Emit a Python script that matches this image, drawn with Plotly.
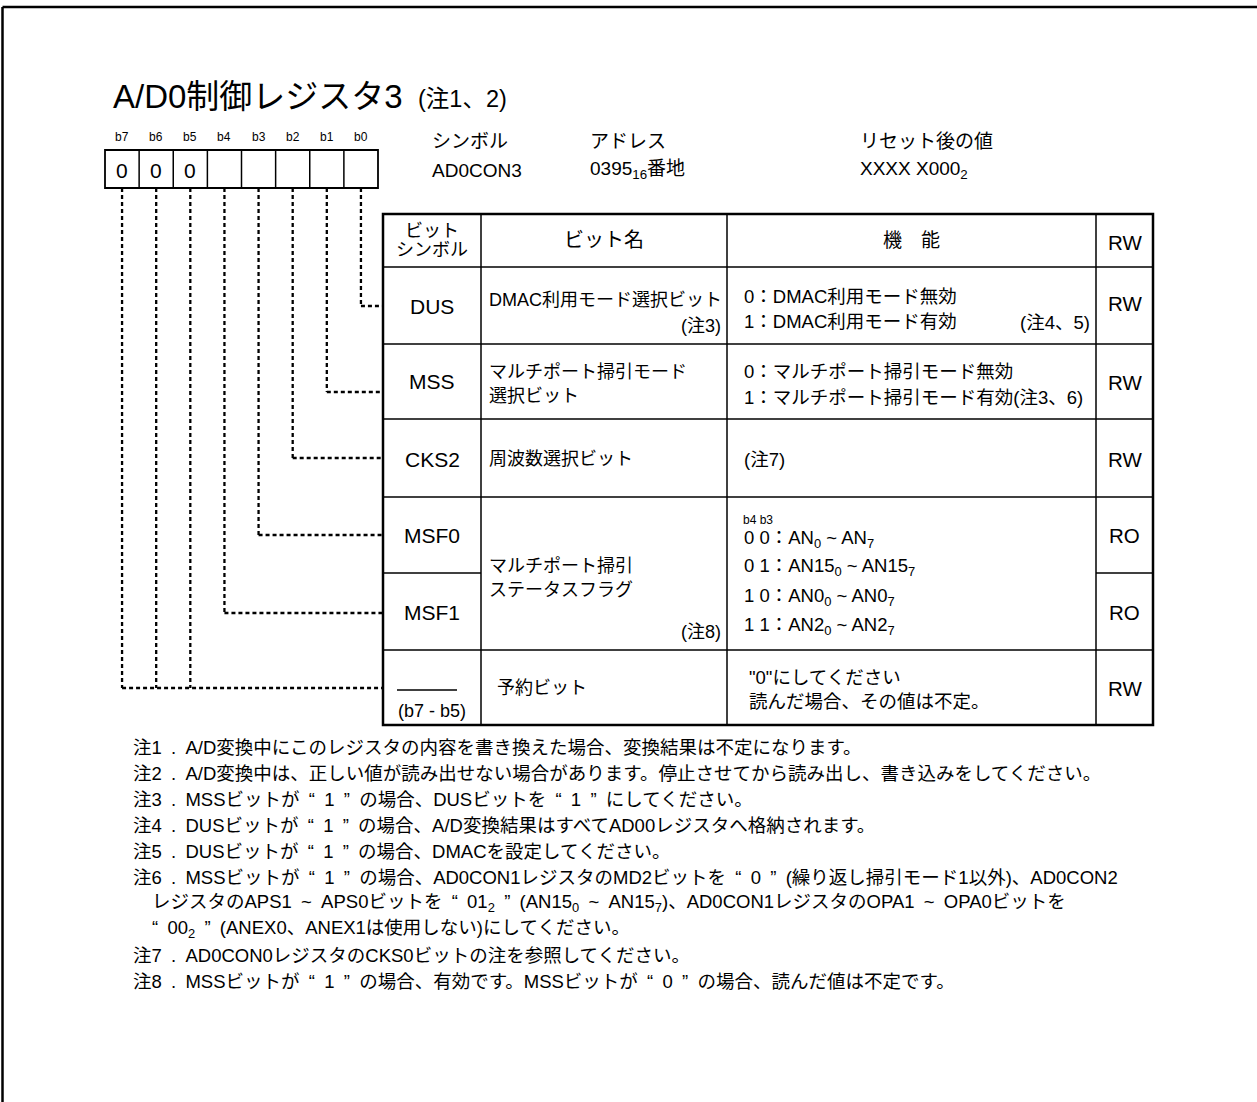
import plotly.graph_objects as go

W, H = 1257, 1102
FONT = "Liberation Sans, Arial, Noto Sans CJK JP, sans-serif"

# ---------------- data ----------------
title_text = "A/D0制御レジスタ3"
title_note = "(注1、2)"
bit_labels = ["b7", "b6", "b5", "b4", "b3", "b2", "b1", "b0"]
bit_values = ["0", "0", "0", "", "", "", "", ""]
info_headers = ["シンボル", "アドレス", "リセット後の値"]
info_values = ["AD0CON3", "0395<sub>16</sub>番地", "XXXX X000<sub>2</sub>"]
table_headers = [["ビット", "シンボル"], "ビット名", "機　能", "RW"]
bit_symbols = ["DUS", "MSS", "CKS2", "MSF0", "MSF1", "(b7 - b5)"]
symbol_bits = [["b0"], ["b1"], ["b2"], ["b3"], ["b4"], ["b5", "b6", "b7"]]
bit_names = [
    ["DMAC利用モード選択ビット"],
    ["マルチポート掃引モード", "選択ビット"],
    ["周波数選択ビット"],
    ["マルチポート掃引", "ステータスフラグ"],
    ["予約ビット"],
]
bit_name_notes = ["(注3)", "", "", "(注8)", ""]
functions = [
    ["0：DMAC利用モード無効", "1：DMAC利用モード有効"],
    ["0：マルチポート掃引モード無効", "1：マルチポート掃引モード有効(注3、6)"],
    ["(注7)"],
    ["0 0：AN<sub>0</sub> ~ AN<sub>7</sub>", "0 1：AN15<sub>0</sub> ~ AN15<sub>7</sub>",
     "1 0：AN0<sub>0</sub> ~ AN0<sub>7</sub>", "1 1：AN2<sub>0</sub> ~ AN2<sub>7</sub>"],
    ["\"0\"にしてください", "読んだ場合、その値は不定。"],
]
function_notes = ["(注4、5)", "", "", "", ""]
function_sub_header = "b4 b3"
rw_values = ["RW", "RW", "RW", "RO", "RO", "RW"]
notes = [
    ("注1 . A/D変換中にこのレジスタの内容を書き換えた場合、変換結果は不定になります。", 0),
    ("注2 . A/D変換中は、正しい値が読み出せない場合があります。停止させてから読み出し、書き込みをしてください。", 0),
    ("注3 . MSSビットが “ 1 ” の場合、DUSビットを “ 1 ” にしてください。", 0),
    ("注4 . DUSビットが “ 1 ” の場合、A/D変換結果はすべてAD00レジスタへ格納されます。", 0),
    ("注5 . DUSビットが “ 1 ” の場合、DMACを設定してください。", 0),
    ("注6 . MSSビットが “ 1 ” の場合、AD0CON1レジスタのMD2ビットを “ 0 ” (繰り返し掃引モード1以外)、AD0CON2", 0),
    ("レジスタのAPS1 ~ APS0ビットを “ 01<sub>2</sub> ” (AN15<sub>0</sub> ~ AN15<sub>7</sub>)、AD0CON1レジスタのOPA1 ~ OPA0ビットを", 1),
    ("“ 00<sub>2</sub> ” (ANEX0、ANEX1は使用しない)にしてください。", 1),
    ("注7 . AD0CON0レジスタのCKS0ビットの注を参照してください。", 0),
    ("注8 . MSSビットが “ 1 ” の場合、有効です。MSSビットが “ 0 ” の場合、読んだ値は不定です。", 0),
]

# ---------------- layout geometry ----------------
box_x0, box_x1, box_y0, box_y1 = 105, 378, 150, 188
col_x = [383, 481, 727, 1096, 1153]
row_y = [214, 267, 344, 419, 497, 573, 650, 725]
conn_y = [306, 392, 458, 535, 613, 688]

shapes = []
annots = []


def line(x0, y0, x1, y1, w=1.5, dash=None):
    d = dict(type="line", xref="x", yref="y", x0=x0, y0=y0, x1=x1, y1=y1,
             line=dict(color="black", width=w))
    if dash:
        d["line"]["dash"] = dash
    shapes.append(d)


def txt(x, y, s, size=17, anchor="left"):
    annots.append(dict(x=x, y=y, xref="x", yref="y", text=s, showarrow=False,
                       xanchor=anchor, yanchor="middle", align=anchor,
                       font=dict(family=FONT, size=size, color="black")))


# outer frame
line(2.5, 7, W, 7, w=2.5)
line(2.5, 7, 2.5, H, w=2.5)

# title
txt(111, 96, title_text, size=33)
txt(416, 99, title_note, size=23.5)

# bit box
cw = (box_x1 - box_x0) / len(bit_labels)
centers = {}
for i, (lab, val) in enumerate(zip(bit_labels, bit_values)):
    cx = box_x0 + cw * (i + 0.5)
    centers[lab] = cx
    txt(cx, 137, lab, size=12, anchor="center")
    if val:
        txt(cx, 170, val, size=21, anchor="center")
shapes.append(dict(type="rect", xref="x", yref="y", x0=box_x0, y0=box_y0, x1=box_x1, y1=box_y1,
                   line=dict(color="black", width=1.8)))
for i in range(1, len(bit_labels)):
    xx = box_x0 + cw * i
    line(xx, box_y0, xx, box_y1, w=1.5)

# info
for hx, h, v in zip([430, 588, 858], info_headers, info_values):
    txt(hx, 141, h, size=19)
    txt(hx, 170, v, size=19)

# connectors
DASH = "4px,3px"
for bits, cy in zip(symbol_bits, conn_y):
    xs = [centers[b] for b in bits]
    for xx in xs:
        line(xx, box_y1, xx, cy, w=2.3, dash=DASH)
    line(min(xs), cy, col_x[0], cy, w=2.3, dash=DASH)

# table lines
tx0, tx1, ty0, ty1 = col_x[0], col_x[-1], row_y[0], row_y[-1]
for xx in col_x[1:-1]:
    line(xx, ty0, xx, ty1, w=1.5)
for yy in [row_y[1], row_y[2], row_y[3], row_y[4], row_y[6]]:
    line(tx0, yy, tx1, yy, w=1.5)
line(col_x[0], row_y[5], col_x[1], row_y[5], w=1.5)
line(col_x[3], row_y[5], col_x[4], row_y[5], w=1.5)
shapes.append(dict(type="rect", xref="x", yref="y", x0=tx0, y0=ty0, x1=tx1, y1=ty1,
                   line=dict(color="black", width=2.5)))

# headers
hc = [(col_x[i] + col_x[i + 1]) / 2 for i in range(4)]
txt(hc[0], 231, table_headers[0][0], size=18, anchor="center")
txt(hc[0], 250, table_headers[0][1], size=18, anchor="center")
txt(hc[1], 240, table_headers[1], size=20, anchor="center")
txt(hc[2], 240, table_headers[2], size=19, anchor="center")
txt(hc[3], 242, table_headers[3], size=20.5, anchor="center")

# symbols & RW
sym_y = [306, 381, 459, 535, 612, 711]
rw_y = [303, 382, 459, 535, 612, 688]
for s, yy in zip(bit_symbols, sym_y):
    txt(hc[0], yy, s, size=21 if not s.startswith("(") else 18, anchor="center")
line(397, 690, 457, 690, w=1.3)  # reserved-bit bar
for r, yy in zip(rw_values, rw_y):
    txt(hc[3], yy, r, size=20.5, anchor="center")

# bit names
name_x = col_x[1] + 6
name_ys = [[300], [372, 396], [459], [566, 590], [688]]
for lines_, ys in zip(bit_names, name_ys):
    for s, yy in zip(lines_, ys):
        txt(name_x if s != "予約ビット" else name_x + 8, yy, s, size=18)
note_ys = [326, None, None, 632, None]
for s, yy in zip(bit_name_notes, note_ys):
    if s:
        txt(col_x[2] - 4, yy, s, size=18, anchor="right")

# functions
fx = col_x[2] + 15
func_ys = [[296, 321], [371, 397], [459], [539, 567, 597, 626], [677, 701]]
for k, (lines_, ys) in enumerate(zip(functions, func_ys)):
    for s, yy in zip(lines_, ys):
        txt(fx + (5 if k == 4 else 0), yy, s, size=18.5)
txt(fx - 1, 520, function_sub_header, size=12)
fn_ys = [322, None, None, None, None]
for s, yy in zip(function_notes, fn_ys):
    if s:
        txt(col_x[3] - 4, yy, s, size=18.5, anchor="right")

# notes (wider Japanese-style spacing)
ny = 747
for s, indent in notes:
    txt(131 + (19 if indent else 0), ny, s.replace(" ", "\u2002"), size=18.5)
    ny += 26

fig = go.Figure()
fig.add_trace(go.Scatter(x=[], y=[], hoverinfo="skip", showlegend=False))
fig.update_layout(
    width=W, height=H, margin=dict(l=0, r=0, t=0, b=0),
    paper_bgcolor="white", plot_bgcolor="white",
    xaxis=dict(range=[0, W], visible=False, fixedrange=True),
    yaxis=dict(range=[H, 0], visible=False, fixedrange=True),
    shapes=shapes, annotations=annots, showlegend=False,
)
fig.write_html("out.html", config={"displayModeBar": False},
               post_script="document.body.style.margin='0';")
